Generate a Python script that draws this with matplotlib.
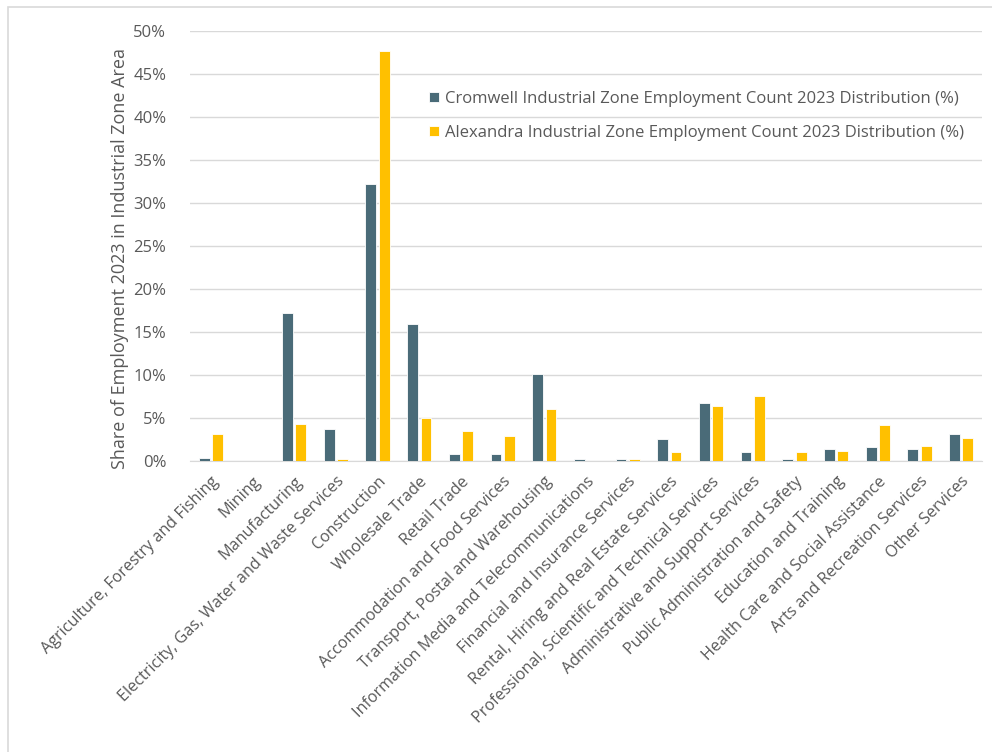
import numpy as np
import matplotlib
matplotlib.use("Agg")
import matplotlib.pyplot as plt
from matplotlib.patches import Rectangle
from matplotlib.ticker import PercentFormatter


#%% Datos
sectores = [
    "Agriculture, Forestry and Fishing",
    "Mining",
    "Manufacturing",
    "Electricity, Gas, Water and Waste Services",
    "Construction",
    "Wholesale Trade",
    "Retail Trade",
    "Accommodation and Food Services",
    "Transport, Postal and Warehousing",
    "Information Media and Telecommunications",
    "Financial and Insurance Services",
    "Rental, Hiring and Real Estate Services",
    "Professional, Scientific and Technical Services",
    "Administrative and Support Services",
    "Public Administration and Safety",
    "Education and Training",
    "Health Care and Social Assistance",
    "Arts and Recreation Services",
    "Other Services",
]

cromwell = [0.4, 0.0, 17.2, 3.7, 32.2, 15.9, 0.8, 0.8, 10.1, 0.25, 0.25,
            2.5, 6.8, 1.0, 0.25, 1.4, 1.6, 1.4, 3.1]
alexandra = [3.1, 0.0, 4.3, 0.25, 47.7, 5.0, 3.5, 2.9, 6.0, 0.0, 0.2,
             1.0, 6.4, 7.5, 1.0, 1.2, 4.2, 1.8, 2.7]

etiquetas = ["Cromwell Industrial Zone Employment Count 2023 Distribution (%)",
             "Alexandra Industrial Zone Employment Count 2023 Distribution (%)"]


#%% Grafico
plt.rcParams["font.family"] = ["Open Sans", "DejaVu Sans"]
gris = "#595959"

fig = plt.figure(figsize=(9.92, 7.52), dpi=100)
ax = fig.add_axes([190 / 992, 1 - 461 / 752, 792 / 992, 430 / 752])

x = np.arange(len(sectores))
ancho = 0.26
ax.bar(x - 0.16, cromwell, ancho, color="#4a6b78", edgecolor="white",
       linewidth=0.6, label=etiquetas[0], zorder=3)
ax.bar(x + 0.16, alexandra, ancho, color="#ffc000", edgecolor="white",
       linewidth=0.6, label=etiquetas[1], zorder=3)

ax.set_xlim(-0.5, len(sectores) - 0.5)
ax.set_ylim(0, 50)
ax.set_yticks(np.arange(0, 51, 5))
ax.yaxis.set_major_formatter(PercentFormatter(decimals=0))
ax.grid(axis="y", color="#d9d9d9", linewidth=1, zorder=0)
for s in ["top", "right", "left"]:
    ax.spines[s].set_visible(False)
ax.spines["bottom"].set_color("#d9d9d9")
ax.tick_params(axis="both", length=0, colors=gris)
ax.tick_params(axis="y", pad=17, labelsize=12)
ax.tick_params(axis="x", pad=9)

ax.set_xticks(x)
ax.set_xticklabels(sectores, rotation=45, ha="right", rotation_mode="anchor",
                   fontsize=11.6, color=gris)
ax.set_ylabel("Share of Employment 2023 in Industrial Zone Area",
              fontsize=13, color=gris)
ax.yaxis.set_label_coords(-0.077, 0.47)

leg = ax.legend(loc="upper left", bbox_to_anchor=(0.283, 0.896), frameon=False,
                fontsize=12, handlelength=0.6, handleheight=0.6,
                handletextpad=0.35, labelspacing=1.1, labelcolor=gris)

# marco
fig.patches.append(Rectangle((8 / 992, -0.1), 1.2, 1 - 7 / 752 + 0.1,
                             transform=fig.transFigure, fill=False,
                             edgecolor="#d9d9d9", linewidth=1.2))

plt.savefig("out.png", dpi=100)
